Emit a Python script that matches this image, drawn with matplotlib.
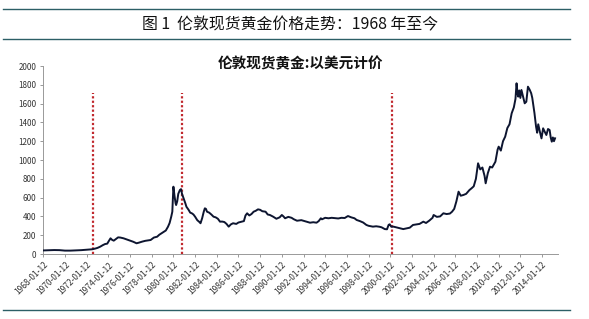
import matplotlib
matplotlib.use("Agg")
import matplotlib.pyplot as plt
from matplotlib.lines import Line2D

plt.rcParams['font.family'] = ['Noto Sans CJK SC', 'DejaVu Sans']

# gold price (year as decimal, USD)
years = [1968.0, 1968.5, 1969.0, 1969.5, 1970.0, 1970.5, 1971.0, 1971.5, 1972.0, 1972.5,
         1972.8, 1973.0, 1973.25, 1973.5, 1973.7, 1973.9, 1974.0, 1974.2, 1974.35, 1974.5,
         1974.7, 1974.9, 1975.1, 1975.4, 1975.7, 1976.0, 1976.3, 1976.6, 1976.8, 1977.1,
         1977.4, 1977.7, 1977.9, 1978.2, 1978.5, 1978.7, 1978.9, 1979.1, 1979.3, 1979.5,
         1979.65, 1979.8, 1979.9, 1980.0, 1980.1, 1980.2, 1980.25, 1980.35, 1980.45, 1980.6,
         1980.7, 1980.8, 1980.95, 1981.1, 1981.2, 1981.4, 1981.55, 1981.7, 1981.85, 1982.0,
         1982.2, 1982.4, 1982.5, 1982.65, 1982.8, 1982.9, 1983.0, 1983.1, 1983.3, 1983.5,
         1983.7, 1983.9, 1984.1, 1984.3, 1984.5, 1984.7, 1984.9, 1985.1, 1985.3, 1985.5,
         1985.8, 1986.0, 1986.3, 1986.5, 1986.65, 1986.8, 1987.0, 1987.2, 1987.4, 1987.6,
         1987.8, 1988.0, 1988.2, 1988.5, 1988.7, 1988.9, 1989.2, 1989.5, 1989.8, 1990.0,
         1990.15, 1990.3, 1990.6, 1990.9, 1991.1, 1991.4, 1991.8, 1992.1, 1992.4, 1992.6,
         1992.9, 1993.2, 1993.4, 1993.6, 1993.7, 1994.0, 1994.3, 1994.6, 1994.9, 1995.2,
         1995.5, 1995.8, 1996.1, 1996.4, 1996.7, 1996.9, 1997.2, 1997.5, 1997.8, 1998.0,
         1998.4, 1998.7, 1999.0, 1999.2, 1999.5, 1999.7, 1999.85, 1999.95, 2000.1, 2000.3,
         2000.5, 2000.9, 2001.2, 2001.5, 2001.8, 2002.1, 2002.4, 2002.7, 2003.05, 2003.3,
         2003.6, 2003.9, 2004.0, 2004.3, 2004.6, 2004.9, 2005.2, 2005.5, 2005.7, 2005.9,
         2006.1, 2006.3, 2006.5, 2006.75, 2007.0, 2007.3, 2007.5, 2007.7, 2007.9, 2008.1,
         2008.3, 2008.5, 2008.7, 2008.8, 2009.0, 2009.2, 2009.4, 2009.7, 2009.9, 2010.0,
         2010.2, 2010.4, 2010.6, 2010.8, 2011.0, 2011.2, 2011.4, 2011.55, 2011.65, 2011.75,
         2011.8, 2011.9, 2012.0, 2012.1, 2012.3, 2012.4, 2012.55, 2012.7, 2012.85, 2013.0,
         2013.1, 2013.3, 2013.45, 2013.55, 2013.65, 2013.8, 2013.95, 2014.1, 2014.25, 2014.4,
         2014.55, 2014.7, 2014.8, 2014.9, 2015.0, 2015.1, 2015.2]
prices = [38, 40, 42, 41, 36, 36, 38, 41, 45, 50,
          58, 65, 78, 95, 106, 110, 130, 167, 150, 142,
          160, 177, 175, 167, 155, 142, 130, 114, 120, 131,
          140, 145, 149, 175, 184, 205, 220, 235, 250, 290,
          330, 397, 450, 716, 620, 540, 521, 560, 640, 681,
          690, 638, 590, 540, 503, 470, 440, 433, 420, 397,
          360, 340, 327, 380, 450, 486, 480, 450, 440, 420,
          397, 390, 375, 344, 345, 340, 320, 291, 315, 327,
          320, 335, 344, 350, 410, 433, 410, 425, 450, 460,
          475, 470, 455, 450, 420, 415, 397, 375, 390, 415,
          400, 380, 395, 385, 370, 354, 360, 350, 340, 333,
          338, 333, 350, 380, 369, 385, 380, 385, 382, 378,
          385, 383, 404, 390, 380, 362, 350, 335, 309, 300,
          291, 295, 290, 284, 265, 263, 310, 316, 290, 291,
          285, 273, 265, 273, 280, 309, 315, 320, 344, 330,
          355, 385, 415, 395, 400, 433, 425, 430, 450, 480,
          560, 663, 620, 628, 640, 680, 699, 720, 800, 965,
          900, 920, 830, 752, 860, 929, 920, 982, 1110, 1142,
          1100, 1200, 1248, 1340, 1380, 1497, 1560, 1650, 1816, 1700,
          1674, 1740, 1660, 1745, 1650, 1603, 1620, 1780, 1750, 1710,
          1660, 1500, 1354, 1290, 1380, 1301, 1230, 1337, 1300, 1266,
          1330, 1319, 1240, 1195, 1240, 1200, 1231]

tick_years = list(range(1968, 2015, 2))
tick_labels = [f"{y}-01-12" for y in tick_years]
event_years = [1972.55, 1980.8, 2000.2]
event_top = 1710

fig = plt.figure(figsize=(5.89, 3.19), dpi=100)
fig.patch.set_facecolor('white')

# report header lines + caption
band = '#2c5f66'
for yy in [1 - 9 / 319, 1 - 39 / 319, 1 - 310 / 319]:
    fig.add_artist(Line2D([0.005, 0.968], [yy, yy], color=band, lw=1.0))
fig.text(0.492, 1 - 25 / 319, "图 1  伦敦现货黄金价格走势：1968 年至今",
         ha='center', va='center', fontsize=11.4, color='#111111')

ax = fig.add_axes([43.3 / 589, 65 / 319, 515 / 589, 188 / 319])
ax.plot(years, prices, color='#0d1530', lw=1.4, zorder=3)
for ey in event_years:
    ax.vlines(ey, 0, event_top, colors='#c0282d', linestyles=(0, (1, 1)), lw=1.6, zorder=2)

ax.set_xlim(1968, 2015.5)
ax.set_ylim(0, 2000)
ax.set_yticks(range(0, 2001, 200))
ax.tick_params(axis='y', labelsize=5.8, colors='#888888', labelcolor='#333333', length=2.5, width=0.6, pad=2.5)
ax.set_xticks(tick_years)
ax.set_xticklabels(tick_labels, rotation=45, ha='right', rotation_mode='anchor')
ax.tick_params(axis='x', labelsize=6, colors='#888888', labelcolor='#333333', length=2.5, width=0.6, pad=2)
for s in ['top', 'right']:
    ax.spines[s].set_visible(False)
for s in ['left', 'bottom']:
    ax.spines[s].set_color('#999999')
    ax.spines[s].set_linewidth(0.7)

fig.text(0.51, 1 - 63 / 319, "伦敦现货黄金:以美元计价", ha='center', va='center',
         fontsize=10.5, fontweight='bold', color='#111111')

fig.savefig('out.png', dpi=100, facecolor='white')
